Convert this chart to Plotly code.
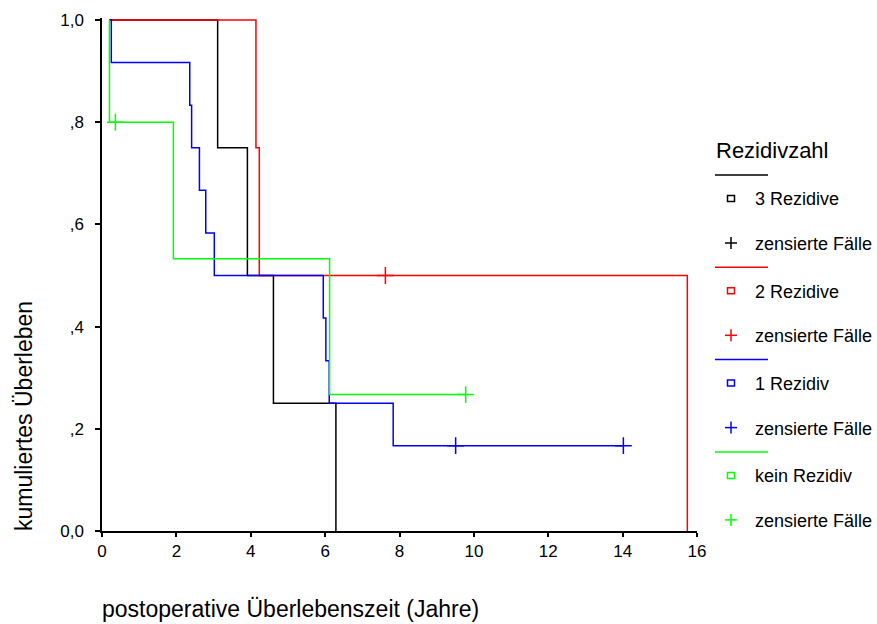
import plotly.graph_objects as go

# ---------------- data ----------------
groups = ["3 Rezidive", "2 Rezidive", "1 Rezidiv", "kein Rezidiv"]
colors = ["#000000", "#FF0000", "#0000FF", "#00FF00"]

# step curves: time points and survival after each point
black_t = [0.2, 3.11, 3.91, 4.61, 6.29]
black_s = [1.0, 0.75, 0.5, 0.25, 0.0]
black_ct = []
black_cs = []

red_t = [0.2, 4.14, 4.23, 15.74]
red_s = [1.0, 0.75, 0.5, 0.0]
red_ct = [7.62]
red_cs = [0.5]

blue_t = [0.2, 0.25, 2.36, 2.41, 2.62, 2.79, 3.02, 5.95, 6.02, 6.11, 7.83, 14.02]
blue_s = [1.0, 0.917, 0.833, 0.75, 0.667, 0.583, 0.5, 0.417, 0.333, 0.25, 0.167, 0.167]
blue_ct = [9.51, 14.02]
blue_cs = [0.167, 0.167]

green_t = [0.2, 0.2, 1.92, 6.12, 9.78]
green_s = [1.0, 0.8, 0.533, 0.267, 0.267]
green_ct = [0.36, 9.78]
green_cs = [0.8, 0.267]

x_ticks = [0, 2, 4, 6, 8, 10, 12, 14, 16]
y_ticks = [0.0, 0.2, 0.4, 0.6, 0.8, 1.0]
y_ticktext = ["0,0", ",2", ",4", ",6", ",8", "1,0"]

legend_title = "Rezidivzahl"
censor_label = "zensierte Fälle"
x_title = "postoperative Überlebenszeit (Jahre)"
y_title = "kumuliertes Überleben"

series = [
    (black_t, black_s, black_ct, black_cs),
    (red_t, red_s, red_ct, red_cs),
    (blue_t, blue_s, blue_ct, blue_cs),
    (green_t, green_s, green_ct, green_cs),
]

# ---------------- figure ----------------
W, H = 877, 624
ML, MR, MT, MB = 102, 180, 18, 93
PW = W - ML - MR
PH = H - MT - MB
Y_BOTTOM = H - MB


def fx(px):
    return (px - ML) / PW


def fy(py):
    return (Y_BOTTOM - py) / PH


fig = go.Figure()
FONT = "Liberation Sans, Arial, sans-serif"

for (t, s, ct, cs), col, name in zip(series, colors, groups):
    fig.add_trace(go.Scatter(
        x=t, y=s, mode="lines", line=dict(color=col, width=1.5, shape="hv"),
        name=name, showlegend=False, hoverinfo="skip"))
    if ct:
        fig.add_trace(go.Scatter(
            x=ct, y=cs, mode="markers",
            marker=dict(symbol="cross-thin", size=12, color=col,
                        line=dict(color=col, width=1.5)),
            name=censor_label, showlegend=False, cliponaxis=False,
            hoverinfo="skip"))

shapes = []
annotations = []

# legend drawn manually
LX0, LX1 = 715, 768
SYM_X = 731
TXT_X = 753
annotations.append(dict(
    x=fx(LX0 - 1), y=fy(150), xref="paper", yref="paper", text=legend_title,
    showarrow=False, xanchor="left", yanchor="middle",
    font=dict(family=FONT, size=22, color="black")))

for i, (col, name) in enumerate(zip(colors, groups)):
    base = 175 + 92.3 * i
    shapes.append(dict(type="line", xref="paper", yref="paper",
                       x0=fx(LX0), x1=fx(LX1), y0=fy(base), y1=fy(base),
                       line=dict(color=col, width=1.5)))
    sy = base + 23.5
    shapes.append(dict(type="rect", xref="paper", yref="paper",
                       x0=fx(SYM_X - 3.5), x1=fx(SYM_X + 3.5),
                       y0=fy(sy - 3), y1=fy(sy + 3),
                       line=dict(color=col, width=1.5)))
    annotations.append(dict(
        x=fx(TXT_X), y=fy(sy + 1), xref="paper", yref="paper", text=name,
        showarrow=False, xanchor="left", yanchor="middle",
        font=dict(family=FONT, size=18, color="black")))
    cy = base + 68
    shapes.append(dict(type="line", xref="paper", yref="paper",
                       x0=fx(SYM_X - 6), x1=fx(SYM_X + 6), y0=fy(cy), y1=fy(cy),
                       line=dict(color=col, width=1.5)))
    shapes.append(dict(type="line", xref="paper", yref="paper",
                       x0=fx(SYM_X), x1=fx(SYM_X), y0=fy(cy - 6), y1=fy(cy + 6),
                       line=dict(color=col, width=1.5)))
    annotations.append(dict(
        x=fx(TXT_X), y=fy(cy + 1), xref="paper", yref="paper", text=censor_label,
        showarrow=False, xanchor="left", yanchor="middle",
        font=dict(family=FONT, size=18, color="black")))

# axis titles
annotations.append(dict(
    x=fx(100), y=fy(609), xref="paper", yref="paper", text=x_title,
    showarrow=False, xanchor="left", yanchor="middle",
    font=dict(family=FONT, size=23, color="black")))
annotations.append(dict(
    x=fx(24), y=fy(533), xref="paper", yref="paper", text=y_title,
    showarrow=False, xanchor="center", yanchor="bottom", textangle=-90,
    font=dict(family=FONT, size=23, color="black")))

fig.update_layout(
    width=W, height=H,
    margin=dict(l=ML, r=MR, t=MT, b=MB, pad=0),
    paper_bgcolor="white", plot_bgcolor="white",
    showlegend=False,
    shapes=shapes, annotations=annotations,
    font=dict(family=FONT, color="black"),
    xaxis=dict(range=[0, 16], tickvals=x_ticks, ticktext=[str(v) for v in x_ticks],
               showgrid=False, zeroline=False, showline=True, linecolor="black",
               linewidth=1.5, ticks="outside", ticklen=4, tickwidth=1.5,
               tickcolor="black", tickfont=dict(family=FONT, size=17, color="black")),
    yaxis=dict(range=[0, 1.004], tickvals=y_ticks, ticktext=y_ticktext,
               showgrid=False, zeroline=False, showline=True, linecolor="black",
               linewidth=1.5, ticks="outside", ticklen=5, tickwidth=1.5,
               tickcolor="black", ticklabelstandoff=8,
               tickfont=dict(family=FONT, size=17, color="black")),
)

fig.write_html("out.html")
